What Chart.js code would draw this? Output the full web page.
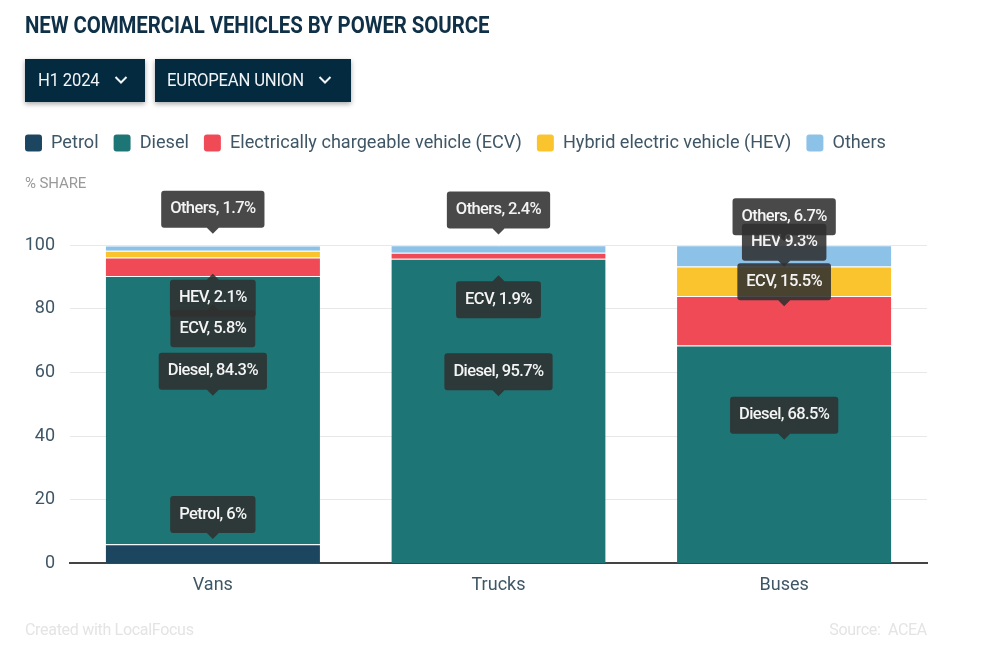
<!DOCTYPE html>
<html><head><meta charset="utf-8">
<script src="https://cdn.jsdelivr.net/npm/chart.js@4"></script>
<style>
html,body{margin:0;padding:0;background:#fff;width:992px;height:655px;overflow:hidden;font-family:Roboto,sans-serif}
#c{position:absolute;left:0;top:0;width:992px;height:655px}
.t{position:absolute;white-space:nowrap}
#title{left:25px;top:12px;font-size:23px;line-height:28px;font-weight:700;color:#0f3046;letter-spacing:-.1px;transform:scaleX(.888);transform-origin:left center}
.dd{position:absolute;top:59px;height:43px;background:#042a40;color:#f2f5f7;box-shadow:0 2px 5px rgba(0,0,0,.35);font-size:18.5px;line-height:43px;white-space:nowrap;box-sizing:border-box}
.dd span{position:absolute;top:0;transform:scaleX(.9);transform-origin:left center;letter-spacing:-.2px}
.dd svg{position:absolute;top:16px}
#share{left:25px;top:174px;font-size:15px;line-height:18px;color:#9a9a9a;letter-spacing:-.1px}
#made{left:25px;top:620px;font-size:16px;line-height:20px;color:#e4e4e4;letter-spacing:-.3px}
#src{right:65px;top:620px;font-size:16px;line-height:20px;color:#e4e4e4;letter-spacing:-.3px}
</style></head><body>
<canvas id="c" width="992" height="655"></canvas>
<div class="t" id="title">NEW COMMERCIAL VEHICLES BY POWER SOURCE</div>
<div class="dd" style="left:25px;width:120px"><span style="left:13px">H1 2024</span><svg style="left:89px" width="14" height="10" viewBox="0 0 14 10"><path d="M1.5 2 L7 7.5 L12.5 2" fill="none" stroke="#f2f5f7" stroke-width="2"/></svg></div>
<div class="dd" style="left:155px;width:196px"><span style="left:12px">EUROPEAN UNION</span><svg style="left:163px" width="14" height="10" viewBox="0 0 14 10"><path d="M1.5 2 L7 7.5 L12.5 2" fill="none" stroke="#f2f5f7" stroke-width="2"/></svg></div>
<div class="t" id="share">% SHARE</div>
<div class="t" id="made">Created with LocalFocus</div>
<div class="t" id="src">Source:&nbsp; ACEA</div>
<script>
const categories = ["Vans", "Trucks", "Buses"];
const petrol = [6, 0, 0];
const diesel = [84.3, 95.7, 68.5];
const ecv = [5.8, 1.9, 15.5];
const hev = [2.1, 0, 9.3];
const others = [1.7, 2.4, 6.7];
const yTicks = [0, 20, 40, 60, 80, 100];
const seriesNames = ["Petrol", "Diesel", "Electrically chargeable vehicle (ECV)", "Hybrid electric vehicle (HEV)", "Others"];
const shortNames = ["Petrol", "Diesel", "ECV", "HEV", "Others"];
const colors = ["#1c4560", "#1e7575", "#f04a57", "#f9c42e", "#8cc2e8"];
const seriesValues = [petrol, diesel, ecv, hev, others];
// tooltip behaviour: series index per category that flip below their segment
const flipBelow = {0: [2, 3], 1: [2], 2: []};
const stackedBelow = {0: [2], 1: [], 2: []};

const fontFamily = "Roboto, sans-serif";

const calloutPlugin = {
  id: "callouts",
  afterDatasetsDraw(chart) {
    const ctx = chart.ctx;
    ctx.save();
    ctx.font = "500 16.5px " + fontFamily;
    ctx.letterSpacing = "-0.6px";
    ctx.textAlign = "center";
    ctx.textBaseline = "middle";
    chart.data.datasets.forEach((ds, i) => {
      const meta = chart.getDatasetMeta(i);
      ds.data.forEach((v, c) => {
        if (!v) return;
        const el = meta.data[c];
        const cx = el.x, mid = (el.y + el.base) / 2;
        const text = (i === 3 && c === 2 ? "HEV " : shortNames[i] + ", ") + v + "%";
        const w = ctx.measureText(text).width + 18, h = 37;
        const below = flipBelow[c].includes(i);
        const shift = stackedBelow[c].includes(i) ? 18 : 0;
        const tip = below ? mid + 19.5 + shift : mid - 14.5;
        const boxTop = below ? tip + 6 : tip - 6 - h;
        ctx.fillStyle = "rgba(48,48,48,0.88)";
        ctx.beginPath();
        ctx.roundRect(cx - w / 2, boxTop, w, h, 3);
        ctx.moveTo(cx - 6, below ? tip + 6 : tip - 6);
        ctx.lineTo(cx, tip);
        ctx.lineTo(cx + 6, below ? tip + 6 : tip - 6);
        ctx.closePath();
        ctx.fill();
        ctx.fillStyle = "#f4f4f4";
        ctx.fillText(text, cx, boxTop + h / 2);
      });
    });
    ctx.restore();
  }
};

const legendGap = {
  id: "legendGap",
  beforeInit(chart) {
    const fit = chart.legend.fit;
    chart.legend.fit = function () { fit.call(this); this.height += 83; };
  }
};

new Chart(document.getElementById("c"), {
  type: "bar",
  data: {
    labels: categories,
    datasets: seriesNames.map((n, i) => ({
      label: n,
      data: seriesValues[i],
      backgroundColor: colors[i],
      borderColor: "rgba(255,255,255,0.18)",
      borderWidth: {top: 1, left: 0, right: 0, bottom: 0},
      borderSkipped: false
    }))
  },
  plugins: [calloutPlugin, legendGap],
  options: {
    responsive: false,
    animation: false,
    devicePixelRatio: 1,
    categoryPercentage: 1,
    barPercentage: 0.75,
    layout: {padding: {top: 119, left: 10, right: 65, bottom: 56}},
    plugins: {
      tooltip: {enabled: false},
      legend: {
        align: "start",
        labels: {
          boxWidth: 17, boxHeight: 17, padding: 15, useBorderRadius: true, borderRadius: 3,
          color: "#3f5666",
          font: {family: fontFamily, size: 18.13}
        }
      }
    },
    scales: {
      x: {
        stacked: true,
        grid: {display: false},
        border: {color: "#444", width: 2},
        ticks: {color: "#3f5666", font: {family: fontFamily, size: 18}, padding: 3}
      },
      y: {
        stacked: true, min: 0, max: 100,
        afterFit(s) { s.width = 60; },
        afterBuildTicks(s) { s.ticks = yTicks.map(v => ({value: v})); },
        grid: {color: "#e8e8e8", drawTicks: false},
        border: {display: false},
        ticks: {color: "#3f5666", font: {family: fontFamily, size: 18}, padding: 15}
      }
    }
  }
});
</script>
</body></html>
